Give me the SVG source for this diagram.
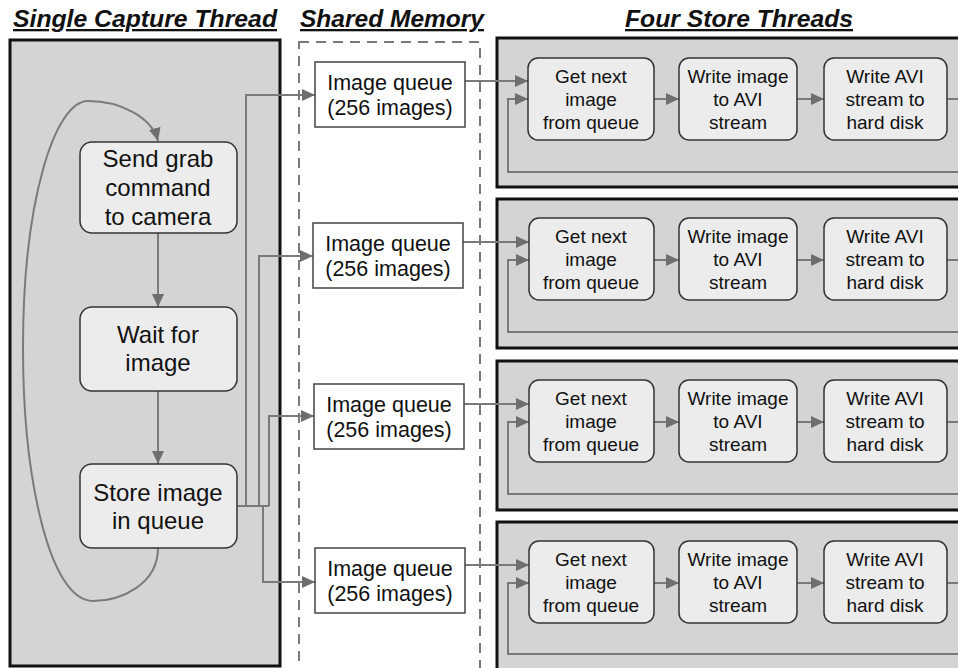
<svg xmlns="http://www.w3.org/2000/svg" width="958" height="668" viewBox="0 0 958 668">
<style>
text{font-family:"Liberation Sans",Arial,sans-serif;fill:#111;text-anchor:middle}
.title{font-weight:bold;font-style:italic;font-size:23px;text-decoration:underline}
.panel{fill:#d4d4d4;stroke:#111;stroke-width:3}
.box{fill:#ececec;stroke:#333;stroke-width:1.5}
.q{fill:#fff;stroke:#444;stroke-width:1.5}
.cb{font-size:24px}
.qt{font-size:21.5px}
.st{font-size:19px}
.ln{fill:none;stroke:#7a7a7a;stroke-width:2}
.ar{marker-end:url(#ah)}
</style>
<defs>
<marker id="ah" viewBox="0 0 13 12" refX="13" refY="6" markerWidth="13" markerHeight="12" markerUnits="userSpaceOnUse" orient="auto"><path d="M0,0 L13,6 L0,12 z" fill="#6e6e6e"/></marker>
</defs>

<g id="titles">
<text class="title" x="145" y="27" textLength="264" lengthAdjust="spacingAndGlyphs">Single Capture Thread</text>
<text class="title" x="392" y="27" textLength="184" lengthAdjust="spacingAndGlyphs">Shared Memory</text>
<text class="title" x="739" y="27" textLength="228" lengthAdjust="spacingAndGlyphs">Four Store Threads</text>
</g>

<g id="capture-thread">
<rect class="panel" x="10" y="40" width="270" height="626"/>
</g>
<g id="shared-memory">
<rect x="299" y="42" width="181" height="630" fill="#fff" stroke="#7a7a7a" stroke-width="2" stroke-dasharray="10,7"/>
</g>

<g id="store-panels">
<rect class="panel" x="497" y="38" width="480" height="149"/>
<rect class="panel" x="497" y="199" width="480" height="149"/>
<rect class="panel" x="497" y="361" width="480" height="149"/>
<rect class="panel" x="497" y="522" width="480" height="160"/>
</g>

<g id="connectors">
<path class="ln ar" d="M158,233 V307"/>
<path class="ln ar" d="M158,391 V464"/>
<path class="ln ar" d="M158,548 C158,585 120,601 93,601 C50,601 23,480 23,348 C23,200 55,101 88,101 C122,101 152,118 158,141"/>
<path class="ln" d="M237,506 H269"/>
<path class="ln ar" d="M246,506 V95 H315"/>
<path class="ln ar" d="M259,506 V256 H313"/>
<path class="ln ar" d="M269,506 V416 H314"/>
<path class="ln ar" d="M263,506 V582 H315"/>
<path class="ln ar" d="M465,81 H528"/>
<path class="ln ar" d="M463,242 H529"/>
<path class="ln ar" d="M464,404 H529"/>
<path class="ln ar" d="M465,565 H529"/>
<path class="ln ar" d="M654,99 H679"/>
<path class="ln ar" d="M797,99 H824"/>
<path class="ln ar" d="M947,99 H970 V172 H508 V99 H528"/>
<path class="ln ar" d="M654,260 H679"/>
<path class="ln ar" d="M797,260 H824"/>
<path class="ln ar" d="M947,260 H970 V332 H508 V260 H529"/>
<path class="ln ar" d="M654,422 H679"/>
<path class="ln ar" d="M797,422 H824"/>
<path class="ln ar" d="M947,422 H970 V494 H508 V422 H529"/>
<path class="ln ar" d="M654,583 H679"/>
<path class="ln ar" d="M797,583 H824"/>
<path class="ln ar" d="M947,583 H970 V654 H508 V583 H529"/>
</g>

<g id="send-grab">
<rect class="box" x="80" y="142" width="157" height="91" rx="12"/>
<text class="cb" x="158" y="167">Send grab</text>
<text class="cb" x="158" y="196">command</text>
<text class="cb" x="158" y="225">to camera</text>
</g>
<g id="wait-image">
<rect class="box" x="80" y="307" width="157" height="84" rx="12"/>
<text class="cb" x="158" y="343">Wait for</text>
<text class="cb" x="158" y="371">image</text>
</g>
<g id="store-image">
<rect class="box" x="80" y="464" width="157" height="84" rx="12"/>
<text class="cb" x="158" y="501">Store image</text>
<text class="cb" x="158" y="529">in queue</text>
</g>

<g id="queue1"><rect class="q" x="315" y="62" width="150" height="65"/><text class="qt" x="390" y="90">Image queue</text><text class="qt" x="390" y="115">(256 images)</text></g>
<g id="queue2"><rect class="q" x="313" y="223" width="150" height="65"/><text class="qt" x="388" y="251">Image queue</text><text class="qt" x="388" y="276">(256 images)</text></g>
<g id="queue3"><rect class="q" x="314" y="384" width="150" height="65"/><text class="qt" x="389" y="412">Image queue</text><text class="qt" x="389" y="437">(256 images)</text></g>
<g id="queue4"><rect class="q" x="315" y="548" width="150" height="65"/><text class="qt" x="390" y="576">Image queue</text><text class="qt" x="390" y="601">(256 images)</text></g>

<g id="get1"><rect class="box" x="528" y="58" width="126" height="82" rx="10"/><text class="st" x="591" y="83">Get next</text><text class="st" x="591" y="106">image</text><text class="st" x="591" y="129">from queue</text></g>
<g id="write1"><rect class="box" x="679" y="58" width="118" height="82" rx="10"/><text class="st" x="738" y="83">Write image</text><text class="st" x="738" y="106">to AVI</text><text class="st" x="738" y="129">stream</text></g>
<g id="disk1"><rect class="box" x="824" y="58" width="123" height="82" rx="10"/><text class="st" x="885" y="83">Write AVI</text><text class="st" x="885" y="106">stream to</text><text class="st" x="885" y="129">hard disk</text></g>

<g id="get2"><rect class="box" x="529" y="218" width="125" height="82" rx="10"/><text class="st" x="591" y="243">Get next</text><text class="st" x="591" y="266">image</text><text class="st" x="591" y="289">from queue</text></g>
<g id="write2"><rect class="box" x="679" y="218" width="118" height="82" rx="10"/><text class="st" x="738" y="243">Write image</text><text class="st" x="738" y="266">to AVI</text><text class="st" x="738" y="289">stream</text></g>
<g id="disk2"><rect class="box" x="824" y="218" width="123" height="82" rx="10"/><text class="st" x="885" y="243">Write AVI</text><text class="st" x="885" y="266">stream to</text><text class="st" x="885" y="289">hard disk</text></g>

<g id="get3"><rect class="box" x="529" y="380" width="125" height="82" rx="10"/><text class="st" x="591" y="405">Get next</text><text class="st" x="591" y="428">image</text><text class="st" x="591" y="451">from queue</text></g>
<g id="write3"><rect class="box" x="679" y="380" width="118" height="82" rx="10"/><text class="st" x="738" y="405">Write image</text><text class="st" x="738" y="428">to AVI</text><text class="st" x="738" y="451">stream</text></g>
<g id="disk3"><rect class="box" x="824" y="380" width="123" height="82" rx="10"/><text class="st" x="885" y="405">Write AVI</text><text class="st" x="885" y="428">stream to</text><text class="st" x="885" y="451">hard disk</text></g>

<g id="get4"><rect class="box" x="529" y="541" width="125" height="82" rx="10"/><text class="st" x="591" y="566">Get next</text><text class="st" x="591" y="589">image</text><text class="st" x="591" y="612">from queue</text></g>
<g id="write4"><rect class="box" x="679" y="541" width="118" height="82" rx="10"/><text class="st" x="738" y="566">Write image</text><text class="st" x="738" y="589">to AVI</text><text class="st" x="738" y="612">stream</text></g>
<g id="disk4"><rect class="box" x="824" y="541" width="123" height="82" rx="10"/><text class="st" x="885" y="566">Write AVI</text><text class="st" x="885" y="589">stream to</text><text class="st" x="885" y="612">hard disk</text></g>
</svg>
